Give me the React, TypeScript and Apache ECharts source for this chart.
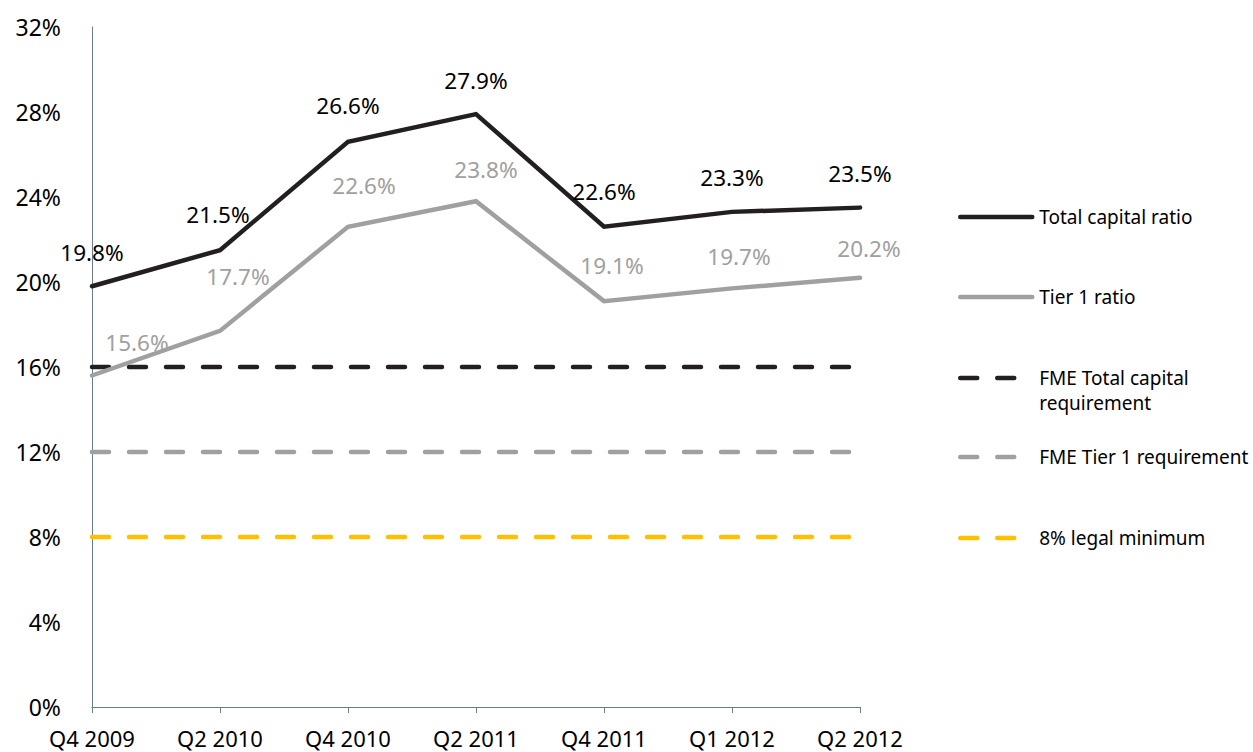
import React, { useEffect, useRef } from "react";
import * as echarts from "echarts";

const categories = ["Q4 2009", "Q2 2010", "Q4 2010", "Q2 2011", "Q4 2011", "Q1 2012", "Q2 2012"];
const totalCapitalRatio = [19.8, 21.5, 26.6, 27.9, 22.6, 23.3, 23.5];
const tier1Ratio = [15.6, 17.7, 22.6, 23.8, 19.1, 19.7, 20.2];
const fmeTotalRequirement = [16, 16, 16, 16, 16, 16, 16];
const fmeTier1Requirement = [12, 12, 12, 12, 12, 12, 12];
const legalMinimum = [8, 8, 8, 8, 8, 8, 8];
const yTicks = { min: 0, max: 32, interval: 4 };

const seriesNames = [
  "Total capital ratio",
  "Tier 1 ratio",
  "FME Total capital requirement",
  "FME Tier 1 requirement",
  "8% legal minimum",
];

const FONT = "'Noto Sans', sans-serif";
const BLACK = "#231f20";
const GRAY = "#a0a0a0";
const YELLOW = "#ffc000";

// label offsets (style only)
const totalOffsets = [
  [0, -34], [-2, -36], [0, -36], [0, -34], [0, -35], [0, -34], [0, -34],
];
const tier1Offsets = [
  [45, -33], [18, -54], [16, -41], [10, -32], [8, -36], [7, -32], [9, -29],
];

export default function App() {
  const ref = useRef<HTMLDivElement>(null);
  useEffect(() => {
    document.body.style.margin = "0";
    if (!ref.current) return;
    const chart = echarts.init(ref.current, null, { renderer: "svg" });

    const labelData = (vals: number[], offs: number[][], color: string) =>
      vals.map((v, i) => ({
        value: v,
        label: {
          show: true,
          position: "inside",
          offset: offs[i],
          formatter: (p: any) => `${Number(p.value).toFixed(1)}%`,
          color,
          fontFamily: FONT,
          fontSize: 22.5,
        },
      }));

    const dashed = (name: string, data: number[], color: string, z: number) => ({
      name,
      type: "line",
      data,
      symbol: "none",
      z,
      lineStyle: { color, width: 4.5, type: [17, 20], cap: "round" },
      itemStyle: { color },
      silent: true,
    });

    const legendTops = [217, 297, 378, 457, 538];
    const legends = seriesNames.map((n, i) => {
      const twoLine = i === 2;
      return {
        data: [n],
        left: 958,
        top: twoLine ? legendTops[i] - 37.5 : legendTops[i] - 12.5,
        orient: "vertical",
        padding: 0,
        itemWidth: 72,
        itemHeight: 14,
        selectedMode: false,
        itemStyle: { opacity: 0 },
        lineStyle: { width: 4.5, cap: "round" },
        formatter: twoLine ? () => "\nFME Total capital\nrequirement" : undefined,
        textStyle: {
          color: "#000",
          fontFamily: FONT,
          fontSize: 19,
          lineHeight: 25,
          padding: [0, 0, 0, 2],
        },
      };
    });

    chart.setOption({
      animation: false,
      backgroundColor: "#fff",
      grid: { left: 92, right: 393, top: 27, bottom: 45, containLabel: false },
      legend: legends,
      xAxis: {
        type: "category",
        data: categories,
        boundaryGap: false,
        axisLine: { show: true, lineStyle: { color: "#6b7c8c", width: 1 } },
        axisTick: { show: true, length: 6, interval: 0, lineStyle: { color: "#6b7c8c" } },
        axisLabel: { color: "#000", fontFamily: FONT, fontSize: 22, lineHeight: 20, margin: 21, interval: 0 },
        splitLine: { show: false },
      },
      yAxis: {
        type: "value",
        min: yTicks.min,
        max: yTicks.max,
        interval: yTicks.interval,
        axisLine: { show: true, lineStyle: { color: "#6b7c8c", width: 1 } },
        axisTick: { show: false },
        axisLabel: { color: "#000", fontFamily: FONT, fontSize: 23, margin: 31, formatter: "{value}%" },
        splitLine: { show: false },
      },
      series: [
        {
          name: seriesNames[0],
          type: "line",
          data: labelData(totalCapitalRatio, totalOffsets, "#000"),
          symbol: "circle",
          symbolSize: 1,
          showSymbol: true,
          z: 5,
          lineStyle: { color: BLACK, width: 4.5, cap: "round", join: "miter" },
          itemStyle: { color: BLACK },
        },
        {
          name: seriesNames[1],
          type: "line",
          data: labelData(tier1Ratio, tier1Offsets, GRAY),
          symbol: "circle",
          symbolSize: 1,
          showSymbol: true,
          z: 4,
          lineStyle: { color: GRAY, width: 4.5, cap: "round", join: "miter" },
          itemStyle: { color: GRAY },
        },
        dashed(seriesNames[2], fmeTotalRequirement, BLACK, 3),
        dashed(seriesNames[3], fmeTier1Requirement, GRAY, 3),
        dashed(seriesNames[4], legalMinimum, YELLOW, 3),
      ],
    });
    return () => chart.dispose();
  }, []);
  return <div ref={ref} style={{ width: 1253, height: 752 }} />;
}
